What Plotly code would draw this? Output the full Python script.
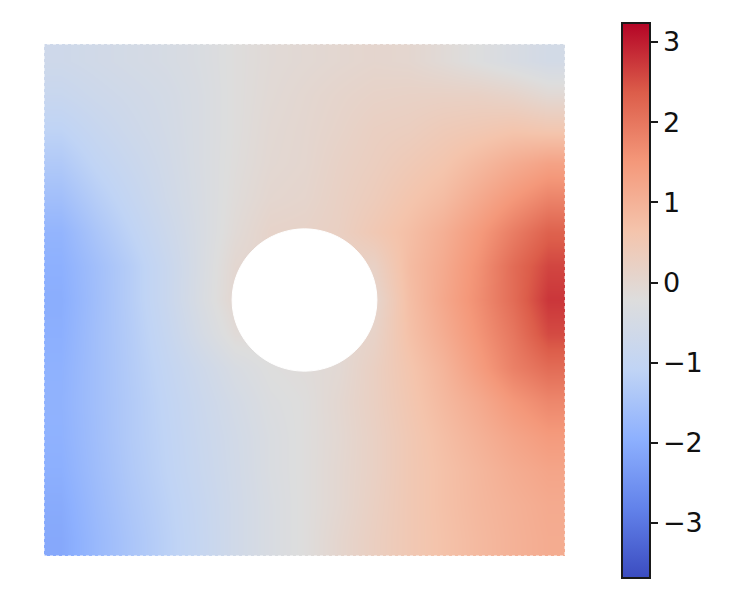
import plotly.graph_objects as go

x_cells = [(i + 0.5) / 15 for i in range(15)]
y_cells = [(j + 0.5) / 15 for j in range(15)]

# rows from the top of the plate to the bottom
field_rows = [
    [-0.68,-0.60,-0.52,-0.45,-0.35,-0.20,-0.10,-0.05,0.00,0.05,0.02,-0.10,-0.25,-0.40,-0.55],
    [-0.85,-0.72,-0.62,-0.52,-0.38,-0.20,-0.08,0.00,0.08,0.15,0.18,0.20,0.20,0.12,-0.05],
    [-1.10,-0.88,-0.70,-0.55,-0.38,-0.20,-0.05,0.02,0.12,0.25,0.30,0.42,0.50,0.60,0.55],
    [-1.35,-1.05,-0.82,-0.60,-0.38,-0.18,-0.03,0.03,0.18,0.30,0.45,0.60,0.85,1.10,1.30],
    [-1.60,-1.25,-0.95,-0.65,-0.40,-0.15,0.02,0.07,0.22,0.38,0.60,0.80,1.15,1.50,1.80],
    [-1.85,-1.45,-1.10,-0.75,-0.42,-0.10,0.12,0.15,0.25,0.50,0.75,1.05,1.45,1.90,2.30],
    [-1.95,-1.60,-1.25,-0.85,-0.42,0.00,0.10,0.10,0.10,0.20,0.80,1.15,1.60,2.15,2.60],
    [-2.00,-1.62,-1.25,-0.85,-0.40,0.02,0.05,0.05,0.05,0.05,0.75,1.20,1.65,2.15,2.75],
    [-1.97,-1.60,-1.28,-0.92,-0.50,-0.12,-0.10,-0.10,-0.05,0.15,0.70,1.10,1.55,2.00,2.55],
    [-1.92,-1.60,-1.30,-1.00,-0.70,-0.40,-0.22,-0.15,-0.05,0.25,0.60,0.95,1.40,1.85,2.15],
    [-1.90,-1.60,-1.32,-1.05,-0.78,-0.52,-0.30,-0.20,0.00,0.25,0.55,0.85,1.15,1.50,1.75],
    [-1.92,-1.62,-1.32,-1.08,-0.82,-0.58,-0.35,-0.20,-0.02,0.22,0.50,0.75,1.00,1.25,1.45],
    [-1.97,-1.65,-1.35,-1.10,-0.85,-0.60,-0.35,-0.20,0.00,0.22,0.50,0.70,0.90,1.10,1.25],
    [-2.05,-1.70,-1.40,-1.15,-0.90,-0.62,-0.38,-0.20,0.00,0.25,0.50,0.70,0.88,1.02,1.15],
    [-2.10,-1.75,-1.45,-1.18,-0.92,-0.62,-0.38,-0.20,0.05,0.28,0.50,0.68,0.85,1.00,1.12],
]
value_min = -3.686
value_max = 3.237
tick_values = [-3, -2, -1, 0, 1, 2, 3]
hole_center = (0.5, 0.5)
hole_radius = 0.139

coolwarm = [
    [0.0, "#3b4cc0"], [0.125, "#6282ea"], [0.25, "#8db0fe"], [0.375, "#c0d4f5"],
    [0.5, "#dddddd"], [0.625, "#f4c4ac"], [0.75, "#f4987a"], [0.875, "#dc5d4a"], [1.0, "#b40426"],
]

W, H = 742, 592
OFF = 8  # the page's own offset
MARGIN_R = 140
plot_w = W - MARGIN_R

fig = go.Figure(go.Heatmap(
    x=x_cells, y=y_cells, z=field_rows[::-1], zsmooth="best",
    zmin=value_min, zmax=value_max, colorscale=coolwarm,
    colorbar=dict(
        x=(622 - OFF) / W, xref="container", xanchor="left", xpad=0,
        y=(H - (578 - OFF)) / H, yref="container", yanchor="bottom", ypad=0,
        len=555, lenmode="pixels", thickness=28, thicknessmode="pixels",
        outlinewidth=2, outlinecolor="#1a1a1a",
        tickmode="array", tickvals=tick_values, ticks="outside", ticklen=7, tickwidth=2,
        tickcolor="#1a1a1a", tickfont=dict(family="DejaVu Sans", size=27, color="#111111"),
    ),
))
fig.add_shape(
    type="circle", xref="x", yref="y", layer="above", fillcolor="white",
    line=dict(color="white", width=1),
    x0=hole_center[0] - hole_radius, x1=hole_center[0] + hole_radius,
    y0=hole_center[1] - hole_radius, y1=hole_center[1] + hole_radius,
)
fig.add_shape(
    type="rect", xref="x", yref="y", layer="above", x0=0, x1=1, y0=0, y1=1,
    line=dict(color="white", width=1, dash="3px,3px"),
)
fig.update_layout(
    width=W, height=H, autosize=False, paper_bgcolor="white", plot_bgcolor="white",
    margin=dict(l=0, r=MARGIN_R, t=0, b=0),
    xaxis=dict(domain=[(44 - OFF) / plot_w, (565 - OFF) / plot_w], range=[0, 1], visible=False),
    yaxis=dict(domain=[(H - (556 - OFF)) / H, (H - (44 - OFF)) / H], range=[0, 1], visible=False),
)
fig.write_html("out.html")
